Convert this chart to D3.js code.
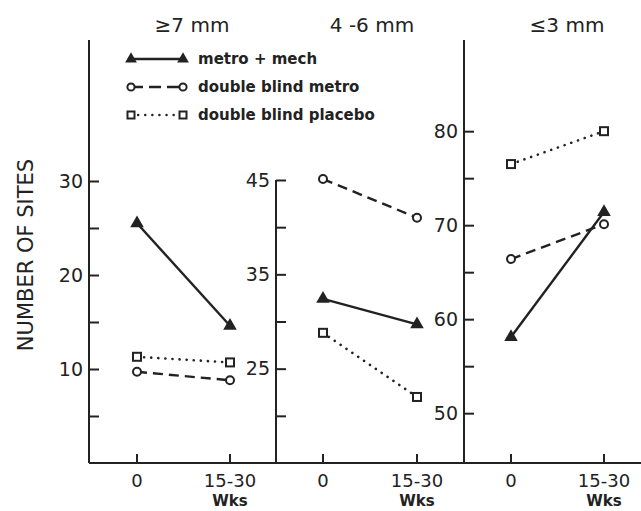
<!DOCTYPE html>
<html>
<head>
<meta charset="utf-8">
<script src="https://cdn.jsdelivr.net/npm/d3@7"></script>
<style>
  body { margin: 0; background: #fff; }
  svg { display: block; }
  text { font-family: "DejaVu Sans", sans-serif; fill: #222; }
</style>
</head>
<body>
<script>
// values
const periods = ['0', '15-30'];
const panelTitles = ['\u22657 mm', '4 -6 mm', '\u22643 mm'];
const seriesNames = ['metro + mech', 'double blind metro', 'double blind placebo'];
const metroMech = [[25.5, 14.6], [32.4, 29.7], [58.1, 71.4]];
const dbMetro = [[9.7, 8.8], [45.1, 41.0], [66.4, 70.1]];
const dbPlacebo = [[11.3, 10.7], [28.8, 22.0], [76.5, 80.0]];
const yDomains = [[0, 45], [15, 45], [44.7, 89.7]];
const yTicks = [[5, 10, 15, 20, 25, 30], [20, 25, 30, 35, 40, 45], [50, 55, 60, 65, 70, 75, 80]];
const yLabelled = [[10, 20, 30], [25, 35, 45], [50, 60, 70, 80]];

const W = 641, H = 511, base = 463;
const ink = '#222';

const svg = d3.select(document.body).append('svg')
  .attr('width', W).attr('height', H);

const panels = [
  {axisX: 89, top: 40, xr: [137, 230], titleX: 192},
  {axisX: 276, top: 180, xr: [323, 417], titleX: 372},
  {axisX: 464, top: 40, xr: [511, 604], titleX: 567},
];

const series = [
  {name: seriesNames[0], data: metroMech, dash: null, marker: 'tri'},
  {name: seriesNames[1], data: dbMetro, dash: '10,6', marker: 'circle'},
  {name: seriesNames[2], data: dbPlacebo, dash: '0.1,7', marker: 'square'},
];

function drawMarker(g, kind, x, y, small) {
  if (kind === 'tri') {
    g.append('path')
      .attr('d', d3.symbol(d3.symbolTriangle, small ? 60 : 80)())
      .attr('transform', `translate(${x},${y})`)
      .attr('fill', ink);
  } else if (kind === 'circle') {
    g.append('circle').attr('cx', x).attr('cy', y).attr('r', small ? 3.6 : 4)
      .attr('fill', '#fff').attr('stroke', ink).attr('stroke-width', 2);
  } else {
    const s = small ? 7 : 8;
    g.append('rect').attr('x', x - s / 2).attr('y', y - s / 2)
      .attr('width', s).attr('height', s)
      .attr('fill', '#fff').attr('stroke', ink).attr('stroke-width', 2);
  }
}

// shared x baseline
svg.append('line').attr('x1', 89).attr('x2', W).attr('y1', base).attr('y2', base)
  .attr('stroke', ink).attr('stroke-width', 2);

panels.forEach((p, i) => {
  const y = d3.scaleLinear().domain(yDomains[i]).range([base, p.top]);
  const x = d3.scalePoint().domain(periods).range(p.xr);

  // y axis line
  svg.append('line').attr('x1', p.axisX).attr('x2', p.axisX)
    .attr('y1', p.top).attr('y2', base).attr('stroke', ink).attr('stroke-width', 2);

  const yAxis = d3.axisLeft(y)
    .tickValues(yTicks[i])
    .tickSizeInner(-10).tickSizeOuter(0).tickPadding(6)
    .tickFormat(d => yLabelled[i].includes(d) ? d : '');
  const ga = svg.append('g').attr('transform', `translate(${p.axisX},0)`).call(yAxis);
  ga.select('.domain').remove();
  ga.selectAll('.tick line').attr('stroke', ink).attr('stroke-width', 2);
  ga.selectAll('.tick text').attr('font-size', 19).attr('font-family', '"DejaVu Sans", sans-serif').attr('fill', ink);

  // x ticks and labels
  periods.forEach(d => {
    svg.append('line').attr('x1', x(d)).attr('x2', x(d)).attr('y1', base).attr('y2', base - 9)
      .attr('stroke', ink).attr('stroke-width', 2);
    svg.append('text').attr('x', x(d)).attr('y', 487).attr('text-anchor', 'middle')
      .attr('font-size', 18).text(d);
  });
  svg.append('text').attr('x', x(periods[1])).attr('y', 506).attr('text-anchor', 'middle')
    .attr('font-size', 15).attr('font-weight', 'bold').text('Wks');

  // panel title
  svg.append('text').attr('x', p.titleX).attr('y', 32).attr('text-anchor', 'middle')
    .attr('font-size', 20).text(panelTitles[i]);

  // series
  const g = svg.append('g');
  series.forEach(s => {
    const pts = periods.map((d, j) => [x(d), y(s.data[i][j])]);
    g.append('path').attr('d', d3.line()(pts)).attr('fill', 'none')
      .attr('stroke', ink).attr('stroke-width', s.marker === 'square' ? 2.6 : 2.4)
      .attr('stroke-linecap', s.marker === 'square' ? 'round' : 'butt')
      .attr('stroke-dasharray', s.dash);
  });
  series.forEach(s => {
    periods.forEach((d, j) => drawMarker(g, s.marker, x(d), y(s.data[i][j]), false));
  });
});

// legend
const lg = svg.append('g');
series.forEach((s, k) => {
  const ly = 59 + k * 28;
  lg.append('line').attr('x1', 131).attr('x2', 183).attr('y1', ly).attr('y2', ly)
    .attr('stroke', ink).attr('stroke-width', 2.4)
    .attr('stroke-linecap', s.marker === 'square' ? 'round' : 'butt')
    .attr('stroke-dasharray', s.dash === '10,6' ? '12,6' : s.dash);
  drawMarker(lg, s.marker, 131, ly, true);
  drawMarker(lg, s.marker, 183, ly, true);
  lg.append('text').attr('x', 198).attr('y', ly + 5).attr('font-size', 15)
    .attr('font-weight', 'bold').text(s.name);
});

// y title
svg.append('text').attr('transform', 'translate(33,255) rotate(-90)')
  .attr('text-anchor', 'middle').attr('font-size', 21).text('NUMBER OF SITES');
</script>
</body>
</html>
